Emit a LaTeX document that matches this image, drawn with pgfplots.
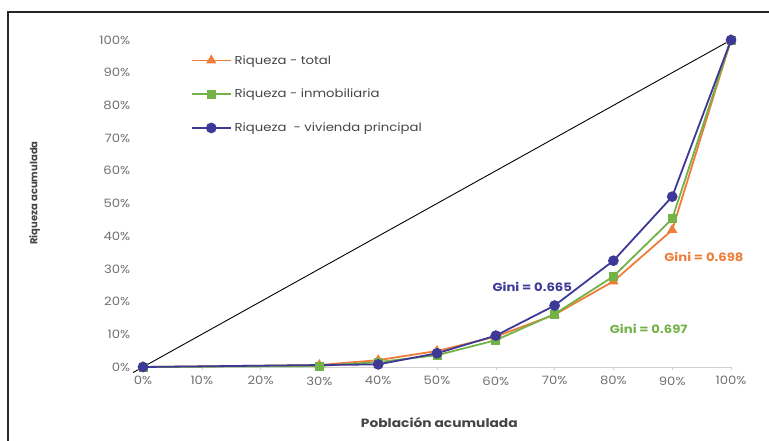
\documentclass[border=0pt]{standalone}
\usepackage{fontspec}
\setmainfont{Poppins}
\usepackage{graphicx}
\usepackage{pgfplots}
\pgfplotsset{compat=1.18}

\definecolor{cTotal}{HTML}{EF7D3A}
\definecolor{cInmob}{HTML}{72B246}
\definecolor{cViv}{HTML}{3E3897}
\definecolor{tickgray}{HTML}{707070}
\definecolor{labgray}{HTML}{454545}
\definecolor{axgray}{HTML}{D0D0D0}

% wide-set text used throughout the chart
\newcommand{\wide}[1]{\scalebox{1.15}[1]{#1}}

\begin{document}
\begin{tikzpicture}
\useasboundingbox (0,0) rectangle (769pt,440pt);
% outer frame (top and left edges)
\draw[line width=1.6pt, black!85] (8pt,-2pt) -- (8pt,428pt) -- (771pt,428pt);

\begin{axis}[
  at={(143pt,73pt)}, anchor=south west,
  scale only axis, width=588pt, height=327pt,
  xmin=0, xmax=100, ymin=0, ymax=100,
  clip=false,
  axis x line=bottom, axis y line=left,
  x axis line style={axgray, line width=0.8pt, -},
  y axis line style={draw=none},
  xtick={0,10,...,100}, ytick={0,10,...,100},
  xticklabels={0\%,10\%,20\%,30\%,40\%,50\%,60\%,70\%,80\%,90\%,100\%},
  yticklabels={0\%,10\%,20\%,30\%,40\%,50\%,60\%,70\%,80\%,90\%,100\%},
  xtick style={axgray, line width=0.6pt},
  ytick style={draw=none},
  major tick length=3pt,
  tick align=outside,
  tick label style={font=\fontsize{11.5}{13}\selectfont, text=tickgray, xscale=1.15},
  xticklabel style={yshift=-3pt},
  yticklabel style={xshift=-5pt},
  legend cell align=left,
  legend style={draw=none, fill=none, at={(axis cs:7.6,96.6)}, anchor=north west,
    font=\fontsize{11.5}{13}\selectfont, text=labgray, row sep=19.5pt,
    /tikz/every odd column/.append style={column sep=1pt}},
  legend image code/.code={%
    \draw[mark repeat=2, mark phase=2, #1] plot coordinates {(0pt,0pt) (19.5pt,0pt) (39pt,0pt)};},
]

% line of equality
\addplot[black, line width=0.9pt, forget plot] coordinates {(-1.7,-1.7) (100,100)};

\addplot[cTotal, line width=1.8pt, mark=triangle*, mark size=4.2pt] coordinates {
  (0,0) (30,0.6) (40,2.1) (50,4.9) (60,9.3) (70,16.0) (80,26.2) (90,41.9) (100,100)};
\addlegendentry{\wide{Riqueza - total}}

\addplot[cInmob, line width=1.8pt, mark=square*, mark size=3.6pt] coordinates {
  (0,0) (30,0.3) (40,1.5) (50,3.6) (60,8.2) (70,16.2) (80,27.7) (90,45.3) (100,100)};
\addlegendentry{\wide{Riqueza - inmobiliaria}}

\addplot[cViv, line width=1.8pt, mark=*, mark size=4.4pt] coordinates {
  (0,0) (40,0.8) (50,4.2) (60,9.6) (70,18.8) (80,32.5) (90,52.1) (100,100)};
\addlegendentry{\wide{Riqueza\ \ - vivienda principal}}

\node[font=\bfseries\fontsize{11.5}{13}\selectfont, text=cViv, xscale=1.15] at (axis cs:66.2,24.5) {Gini = 0.665};
\node[font=\bfseries\fontsize{11.5}{13}\selectfont, text=cTotal, xscale=1.15] at (axis cs:95.4,33.5) {Gini = 0.698};
\node[font=\bfseries\fontsize{11.5}{13}\selectfont, text=cInmob, xscale=1.15] at (axis cs:86,11.5) {Gini = 0.697};

\node[font=\fontsize{12}{14}\selectfont\bfseries, text=labgray, xscale=1.15] at (rel axis cs:0.504,-0.171) {Población acumulada};
\node[font=\fontsize{10}{12}\selectfont\bfseries, text=labgray, rotate=90] at (rel axis cs:-0.184,0.532) {Riqueza acumulada};
\end{axis}
\end{tikzpicture}
\end{document}
